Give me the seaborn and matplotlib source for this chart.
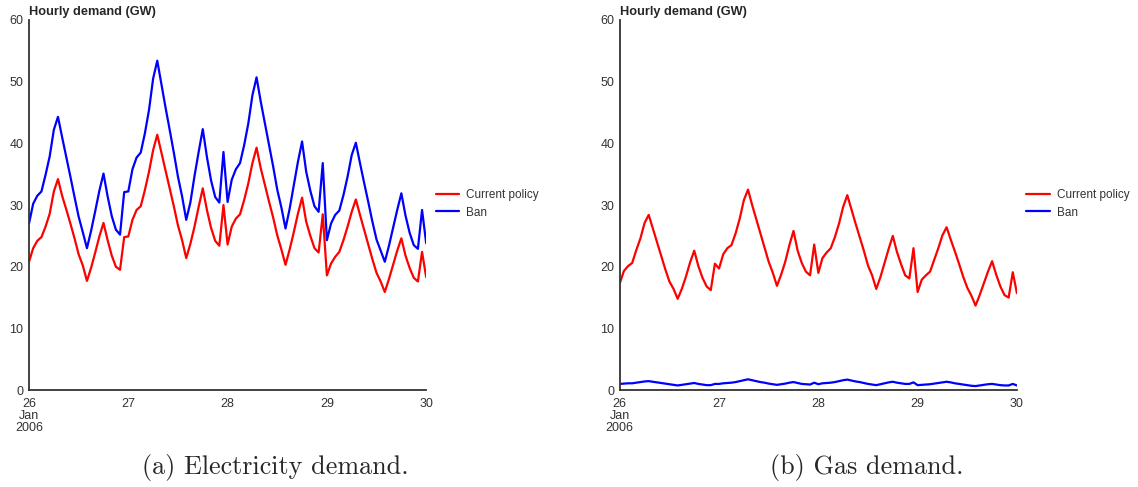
import pandas as pd
import matplotlib
matplotlib.use("Agg")
import matplotlib.pyplot as plt
import seaborn as sns

# hourly values, 26 Jan 2006 00:00 -> 30 Jan 2006 00:00 (97 points)
elec_current = [
    20.8, 23.0, 24.2, 24.8, 26.5, 28.6, 32.2, 34.2, 31.5, 29.3, 27.0, 24.6, 22.0, 20.2, 17.7, 19.8, 22.3, 24.9, 27.1, 24.3, 21.8, 20.0, 19.5, 24.8,
    24.9, 27.6, 29.2, 29.8, 32.4, 35.4, 38.9, 41.4, 38.5, 35.6, 32.7, 29.8, 26.7, 24.3, 21.4, 23.7, 26.5, 29.7, 32.7, 29.2, 26.3, 24.2, 23.4, 30.0,
    23.6, 26.5, 27.8, 28.5, 30.8, 33.5, 36.8, 39.3, 36.0, 33.3, 30.6, 28.0, 25.1, 22.8, 20.3, 22.8, 25.6, 28.6, 31.2, 27.3, 25.0, 23.0, 22.3, 28.5,
    18.6, 20.5, 21.6, 22.4, 24.3, 26.5, 28.9, 30.9, 28.4, 26.0, 23.6, 21.2, 19.0, 17.6, 15.9, 18.0, 20.3, 22.6, 24.6, 21.8, 19.8, 18.2, 17.6, 22.4,
    18.3,
]
elec_ban = [
    27.0, 30.2, 31.5, 32.2, 34.9, 37.9, 42.2, 44.3, 41.0, 37.8, 34.6, 31.3, 28.1, 25.6, 23.0, 25.8, 29.0, 32.3, 35.1, 31.4, 28.2, 26.0, 25.2, 32.1,
    32.2, 35.8, 37.7, 38.5, 41.6, 45.4, 50.5, 53.4, 49.6, 45.8, 42.2, 38.5, 34.6, 31.4, 27.6, 30.4, 34.7, 38.6, 42.3, 37.8, 34.0, 31.3, 30.4, 38.6,
    30.5, 34.1, 35.8, 36.8, 39.7, 43.2, 47.8, 50.7, 46.8, 43.3, 39.8, 36.3, 32.5, 29.6, 26.2, 29.4, 33.2, 37.0, 40.3, 35.4, 32.3, 29.8, 28.9, 36.8,
    24.3, 27.0, 28.4, 29.1, 31.6, 34.6, 38.1, 40.1, 36.8, 33.6, 30.5, 27.3, 24.4, 22.6, 20.8, 23.4, 26.3, 29.2, 31.9, 28.3, 25.5, 23.5, 22.9, 29.2,
    23.8,
]
gas_current = [
    17.3, 19.3, 20.1, 20.6, 22.7, 24.6, 27.1, 28.4, 26.2, 24.0, 21.8, 19.6, 17.6, 16.4, 14.8, 16.4, 18.4, 20.7, 22.6, 20.1, 18.2, 16.8, 16.2, 20.5,
    19.7, 22.0, 23.0, 23.5, 25.4, 27.8, 30.8, 32.5, 30.0, 27.7, 25.4, 23.1, 20.8, 19.0, 16.9, 18.7, 20.8, 23.5, 25.8, 22.6, 20.6, 19.2, 18.6, 23.6,
    19.0, 21.4, 22.3, 23.0, 24.8, 27.0, 29.7, 31.6, 29.3, 27.0, 24.8, 22.6, 20.2, 18.6, 16.4, 18.3, 20.6, 22.9, 25.0, 22.4, 20.4, 18.6, 18.1, 23.0,
    15.9, 17.9, 18.6, 19.2, 21.1, 23.0, 25.1, 26.4, 24.4, 22.5, 20.5, 18.4, 16.6, 15.3, 13.7, 15.4, 17.3, 19.2, 20.9, 18.7, 16.8, 15.4, 15.0, 19.1,
    15.7,
]
gas_ban = [
    1.0, 1.05, 1.1, 1.1, 1.2, 1.3, 1.4, 1.45, 1.35, 1.25, 1.15, 1.05, 0.95, 0.85, 0.75, 0.85, 0.95, 1.05, 1.15, 1.0, 0.9, 0.8, 0.8, 1.0,
    1.0, 1.1, 1.15, 1.2, 1.3, 1.45, 1.6, 1.75, 1.6, 1.45, 1.3, 1.2, 1.05, 0.95, 0.85, 0.95, 1.05, 1.2, 1.3, 1.15, 1.0, 0.95, 0.9, 1.2,
    0.95, 1.1, 1.15, 1.2, 1.3, 1.45, 1.6, 1.7, 1.55, 1.4, 1.3, 1.15, 1.0, 0.9, 0.8, 0.95, 1.1, 1.25, 1.35, 1.2, 1.1, 1.0, 1.0, 1.25,
    0.8, 0.85, 0.9, 0.95, 1.05, 1.15, 1.25, 1.35, 1.25, 1.1, 1.0, 0.9, 0.8, 0.7, 0.65, 0.75, 0.85, 0.95, 1.0, 0.9, 0.8, 0.75, 0.75, 1.0,
    0.75,
]
scenarios = ["Current policy", "Ban"]
tick_dates = ["2006-01-26", "2006-01-27", "2006-01-28", "2006-01-29", "2006-01-30"]
tick_labels = ["26\nJan\n2006", "27", "28", "29", "30"]
captions = ["(a) Electricity demand.", "(b) Gas demand."]

times = pd.date_range("2006-01-26 00:00", periods=len(elec_current), freq="h")


def long_frame(current, ban):
    return pd.concat([
        pd.DataFrame({"time": times, "demand": current, "scenario": scenarios[0]}),
        pd.DataFrame({"time": times, "demand": ban, "scenario": scenarios[1]}),
    ])


sns.set_style("white")
plt.rcParams["font.family"] = ["Liberation Sans", "DejaVu Sans"]

fig = plt.figure(figsize=(11.38, 4.87), dpi=100)
ax_e = fig.add_axes([0.0255, 0.199, 0.349, 0.760])
ax_g = fig.add_axes([0.5446, 0.199, 0.349, 0.760])

palette = {"Current policy": "#ff0000", "Ban": "#0000ff"}
panels = [(ax_e, long_frame(elec_current, elec_ban)),
          (ax_g, long_frame(gas_current, gas_ban))]

for ax, df in panels:
    sns.lineplot(data=df, x="time", y="demand", hue="scenario", palette=palette,
                 linewidth=1.6, ax=ax)
    ax.set_xlim(pd.Timestamp(tick_dates[0]), pd.Timestamp(tick_dates[-1]))
    ax.set_ylim(0, 60)
    ax.set_yticks([0, 10, 20, 30, 40, 50, 60])
    ax.set_xticks(pd.to_datetime(tick_dates))
    ax.set_xticklabels(tick_labels, linespacing=1.0)
    ax.tick_params(axis="both", length=0, labelsize=9, colors="#333333", pad=4)
    ax.tick_params(axis="x", pad=6)
    ax.set_xlabel("")
    ax.set_ylabel("")
    sns.despine(ax=ax)
    for side in ["left", "bottom"]:
        ax.spines[side].set_color("#333333")
        ax.spines[side].set_linewidth(1.3)
    ax.text(0.0, 1.004, "Hourly demand (GW)", transform=ax.transAxes,
            fontsize=9.2, fontweight="bold", ha="left", va="bottom")
    ax.legend(loc="center left", bbox_to_anchor=(1.0, 0.503), frameon=False,
              fontsize=8.5, handlelength=2.0, handletextpad=0.6,
              labelspacing=0.45, borderaxespad=0.4)
    for t in ax.get_legend().get_texts():
        t.set_color("#333333")

fig.text(0.2421, 0.041, captions[0], ha="center", va="center",
         fontsize=18.8, family="cmr10")
fig.text(0.7614, 0.041, captions[1], ha="center", va="center",
         fontsize=18.8, family="cmr10")

fig.savefig("out.png", dpi=100)
